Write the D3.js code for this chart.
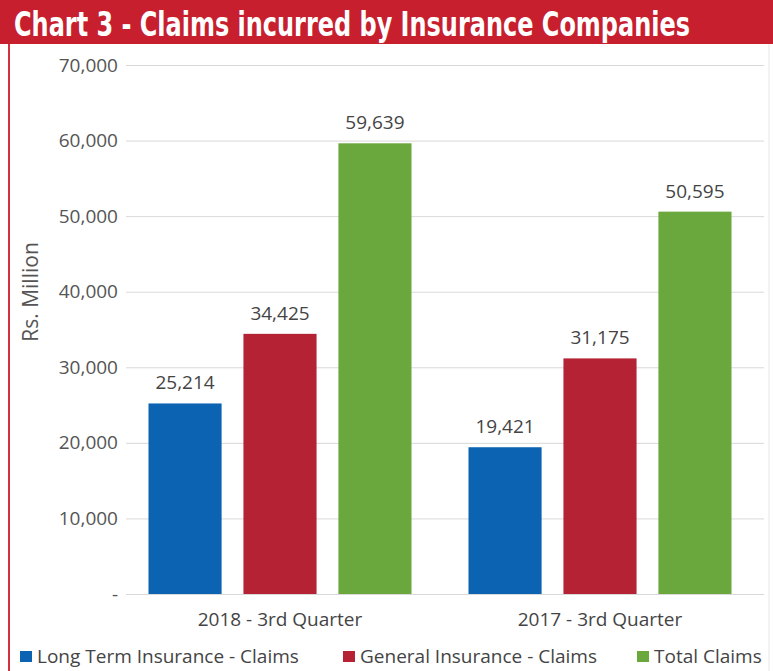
<!DOCTYPE html>
<html>
<head>
<meta charset="utf-8">
<script src="https://cdn.jsdelivr.net/npm/d3@7"></script>
<style>
  body { margin: 0; background: #fff; }
  svg { display: block; }
</style>
</head>
<body>
<div id="chart"></div>
<script>
// chart values
const categories = ['2018 - 3rd Quarter', '2017 - 3rd Quarter'];
const seriesNames = ['Long Term Insurance - Claims', 'General Insurance - Claims', 'Total Claims'];
const longTermClaims = [25214, 19421];
const generalClaims = [34425, 31175];
const totalClaims = [59639, 50595];
const yTicks = [0, 10000, 20000, 30000, 40000, 50000, 60000, 70000];
const seriesColors = ['#0b63b1', '#b42234', '#6aa83e'];

const width = 773, height = 671;
const margin = { top: 65, right: 13, bottom: 77, left: 120 };
const boundedWidth = width - margin.left - margin.right;
const boundedHeight = height - margin.top - margin.bottom;
const labelFont = '"Open Sans", sans-serif';

const svg = d3.select('#chart').append('svg')
    .attr('width', width)
    .attr('height', height);

// title bar
svg.append('rect')
    .attr('x', 0).attr('y', 0)
    .attr('width', width).attr('height', 44)
    .attr('fill', '#c71f2e');
// condensed look: narrow font, stretched vertically
svg.append('text')
    .attr('transform', 'translate(14,36) scale(1,1.25)')
    .attr('fill', '#fff')
    .attr('font-family', '"DejaVu Sans Condensed", "Liberation Sans Narrow", sans-serif')
    .attr('font-weight', 'bold')
    .attr('font-size', 27)
    .attr('textLength', 676)
    .attr('lengthAdjust', 'spacingAndGlyphs')
    .text('Chart 3 - Claims incurred by Insurance Companies');

// left red border, faint right border
svg.append('line')
    .attr('x1', 9).attr('x2', 9).attr('y1', 44).attr('y2', height)
    .attr('stroke', '#d0333f').attr('stroke-width', 2);
svg.append('line')
    .attr('x1', 769).attr('x2', 769).attr('y1', 44).attr('y2', height)
    .attr('stroke', '#e6e6e6').attr('stroke-width', 1);

const g = svg.append('g')
    .attr('transform', `translate(${margin.left},${margin.top})`);

// scales
const yScale = d3.scaleLinear().domain([0, 70000]).range([boundedHeight, 0]);
const xScale = d3.scaleBand().domain(categories).range([0, boundedWidth]);
const innerScale = d3.scaleBand().domain(seriesNames)
    .range([0, xScale.bandwidth()]).paddingInner(0.23).paddingOuter(0.3);

const fmt = d3.format(',');

// gridlines + y labels
const yAxis = d3.axisLeft(yScale)
    .tickValues(yTicks)
    .tickSize(-(boundedWidth - 2))
    .tickPadding(8)
    .tickFormat(d => d === 0 ? '-' : fmt(d));
const yAxisG = g.append('g')
    .attr('transform', 'translate(6,0)')
    .call(yAxis);
yAxisG.select('.domain').remove();
yAxisG.selectAll('.tick line').attr('stroke', '#d9d9d9');
yAxisG.selectAll('.tick text')
    .attr('fill', '#555')
    .attr('font-family', labelFont)
    .attr('font-size', 19);

// y axis title
svg.append('text')
    .attr('transform', `translate(38,292) rotate(-90)`)
    .attr('text-anchor', 'middle')
    .attr('fill', '#555')
    .attr('font-family', labelFont)
    .attr('font-size', 21)
    .text('Rs. Million');

// bars
const rows = categories.map((c, i) => ({
    category: c,
    values: [longTermClaims[i], generalClaims[i], totalClaims[i]]
}));

const groups = g.selectAll('.group')
    .data(rows)
    .join('g')
    .attr('class', 'group')
    .attr('transform', d => `translate(${xScale(d.category)},0)`);

groups.selectAll('rect')
    .data(d => d.values.map((v, i) => ({ name: seriesNames[i], value: v, i })))
    .join('rect')
    .attr('x', d => innerScale(d.name))
    .attr('width', innerScale.bandwidth())
    .attr('y', d => yScale(d.value))
    .attr('height', d => boundedHeight - yScale(d.value))
    .attr('fill', d => seriesColors[d.i]);

groups.selectAll('.value-label')
    .data(d => d.values.map((v, i) => ({ name: seriesNames[i], value: v })))
    .join('text')
    .attr('class', 'value-label')
    .attr('x', d => innerScale(d.name) + innerScale.bandwidth() / 2)
    .attr('y', d => yScale(d.value) - 14)
    .attr('text-anchor', 'middle')
    .attr('fill', '#444')
    .attr('font-family', labelFont)
    .attr('font-size', 19)
    .text(d => fmt(d.value));

// category labels
const xAxis = d3.axisBottom(xScale).tickSize(0).tickPadding(19);
const xAxisG = g.append('g')
    .attr('transform', `translate(0,${boundedHeight})`)
    .call(xAxis);
xAxisG.select('.domain').remove();
xAxisG.selectAll('.tick text')
    .attr('fill', '#444')
    .attr('font-family', labelFont)
    .attr('font-size', 19);

// legend
const legendX = [20, 343, 637];
const legend = svg.selectAll('.legend')
    .data(seriesNames)
    .join('g')
    .attr('class', 'legend')
    .attr('transform', (d, i) => `translate(${legendX[i]},657)`);
legend.append('rect')
    .attr('x', 0).attr('y', -6)
    .attr('width', 12).attr('height', 11)
    .attr('fill', (d, i) => seriesColors[i]);
legend.append('text')
    .attr('x', 17).attr('y', 6)
    .attr('fill', '#444')
    .attr('font-family', labelFont)
    .attr('font-size', 19)
    .text(d => d);
</script>
</body>
</html>
